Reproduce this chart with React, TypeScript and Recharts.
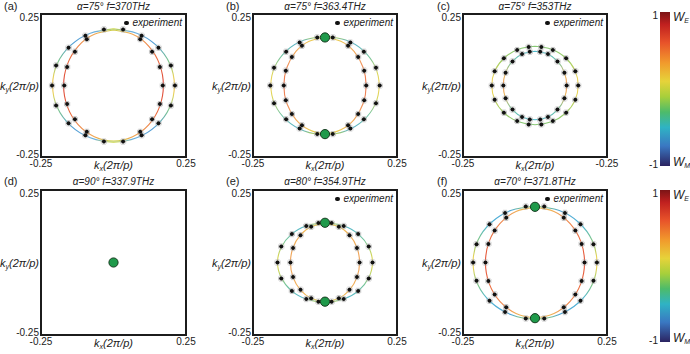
import React from 'react';
import {
  ComposedChart, Line, Scatter, XAxis, YAxis, ReferenceArea, ErrorBar, Legend, BarChart, Bar, LabelList,
} from 'recharts';

type Pt = [number, number];

// ---------------- data ----------------
const kTicks = [-0.25, 0.25];
const xTickLabelsStd = ['-0.25', '0.25'];
const xTickLabelsC = ['-0.25', '-0.25'];
const yTickLabels = ['-0.25', '0.25'];

const panelTitles = [
  'α=75° f=370THz', 'α=75° f=363.4THz', 'α=75° f=353THz',
  'α=90° f=337.9THz', 'α=80° f=354.9THz', 'α=70° f=371.8THz',
];
const panelLetters = ['(a)', '(b)', '(c)', '(d)', '(e)', '(f)'];

const curveAOuter: Pt[] = [[0,.198],[-.080,.183],[-.148,.140],[-.194,.076],[-.210,0],[-.194,-.076],[-.148,-.140],[-.080,-.183],[0,-.198],[.080,-.183],[.148,-.140],[.194,-.076],[.210,0],[.194,.076],[.148,.140],[.080,.183],[0,.198]];
const curveAInner: Pt[] = [[0,.194],[-.066,.179],[-.122,.137],[-.159,.074],[-.172,0],[-.159,-.074],[-.122,-.137],[-.066,-.179],[0,-.194],[.066,-.179],[.122,-.137],[.159,-.074],[.172,0],[.159,.074],[.122,.137],[.066,.179],[0,.194]];
const curveBOuter: Pt[] = [[0,.172],[-.072,.159],[-.133,.122],[-.174,.066],[-.188,0],[-.174,-.066],[-.133,-.122],[-.072,-.159],[0,-.172],[.072,-.159],[.133,-.122],[.174,-.066],[.188,0],[.174,.066],[.133,.122],[.072,.159],[0,.172]];
const curveBInner: Pt[] = [[0,.168],[-.055,.155],[-.101,.119],[-.132,.064],[-.143,0],[-.132,-.064],[-.101,-.119],[-.055,-.155],[0,-.168],[.055,-.155],[.101,-.119],[.132,-.064],[.143,0],[.132,.064],[.101,.119],[.055,.155],[0,.168]];
const curveCOuter: Pt[] = [[0,.137],[-.057,.127],[-.106,.097],[-.139,.052],[-.150,0],[-.139,-.052],[-.106,-.097],[-.057,-.127],[0,-.137],[.057,-.127],[.106,-.097],[.139,-.052],[.150,0],[.139,.052],[.106,.097],[.057,.127],[0,.137]];
const curveCInner: Pt[] = [[0,.120],[-.042,.111],[-.078,.085],[-.102,.046],[-.110,0],[-.102,-.046],[-.078,-.085],[-.042,-.111],[0,-.120],[.042,-.111],[.078,-.085],[.102,-.046],[.110,0],[.102,.046],[.078,.085],[.042,.111],[0,.120]];
const curveEOuter: Pt[] = [[0,.137],[-.063,.127],[-.117,.097],[-.152,.052],[-.165,0],[-.152,-.052],[-.117,-.097],[-.063,-.127],[0,-.137],[.063,-.127],[.117,-.097],[.152,-.052],[.165,0],[.152,.052],[.117,.097],[.063,.127],[0,.137]];
const curveEInner: Pt[] = [[0,.134],[-.046,.124],[-.085,.095],[-.111,.051],[-.120,0],[-.111,-.051],[-.085,-.095],[-.046,-.124],[0,-.134],[.046,-.124],[.085,-.095],[.111,-.051],[.120,0],[.111,.051],[.085,.095],[.046,.124],[0,.134]];
const curveFOuter: Pt[] = [[0,.195],[-.082,.180],[-.152,.138],[-.199,.075],[-.215,0],[-.199,-.075],[-.152,-.138],[-.082,-.180],[0,-.195],[.082,-.180],[.152,-.138],[.199,-.075],[.215,0],[.199,.075],[.152,.138],[.082,.180],[0,.195]];
const curveFInner: Pt[] = [[0,.190],[-.066,.176],[-.122,.134],[-.159,.073],[-.172,0],[-.159,-.073],[-.122,-.134],[-.066,-.176],[0,-.190],[.066,-.176],[.122,-.134],[.159,-.073],[.172,0],[.159,.073],[.122,.134],[.066,.176],[0,.190]];

const expA: Pt[] = [
  [.212,0],[-.212,0],[.198,.070],[-.198,.070],[.198,-.070],[-.198,-.070],[.155,.132],[-.155,.132],[.155,-.132],[-.155,-.132],[.097,.174],[-.097,.174],[.097,-.174],[-.097,-.174],
  [.170,0],[-.170,0],[.160,.065],[-.160,.065],[.160,-.065],[-.160,-.065],[.133,.118],[-.133,.118],[.133,-.118],[-.133,-.118],[.092,.162],[-.092,.162],[.092,-.162],[-.092,-.162],
  [.033,.196],[-.033,.196],[.033,-.196],[-.033,-.196],
];
const expB: Pt[] = [
  [.190,0],[-.190,0],[.177,.062],[-.177,.062],[.177,-.062],[-.177,-.062],[.135,.118],[-.135,.118],[.135,-.118],[-.135,-.118],[.088,.150],[-.088,.150],[.088,-.150],[-.088,-.150],
  [.143,0],[-.143,0],[.136,.052],[-.136,.052],[.136,-.052],[-.136,-.052],[.115,.100],[-.115,.100],[.115,-.100],[-.115,-.100],[.080,.139],[-.080,.139],[.080,-.139],[-.080,-.139],
  [.027,.168],[-.027,.168],[.027,-.170],[-.027,-.170],
];
const expC: Pt[] = [
  [.150,0],[-.150,0],[.140,.050],[-.140,.050],[.140,-.050],[-.140,-.050],[.108,.095],[-.108,.095],[.108,-.095],[-.108,-.095],[.062,.124],[-.062,.124],[.062,-.124],[-.062,-.124],[.022,.135],[-.022,.135],[.022,-.136],[-.022,-.136],
  [.110,0],[-.110,0],[.102,.045],[-.102,.045],[.102,-.045],[-.102,-.045],[.078,.084],[-.078,.084],[.078,-.084],[-.078,-.084],[.045,.110],[-.045,.110],[.045,-.110],[-.045,-.110],[.018,.118],[-.018,.118],[.018,-.119],[-.018,-.119],
];
const expE: Pt[] = [
  [.165,0],[-.165,0],[.152,.055],[-.152,.055],[.152,-.055],[-.152,-.055],[.115,.098],[-.115,.098],[.115,-.098],[-.115,-.098],[.065,.126],[-.065,.126],[.065,-.126],[-.065,-.126],
  [.120,0],[-.120,0],[.111,.050],[-.111,.050],[.111,-.050],[-.111,-.050],[.085,.094],[-.085,.094],[.085,-.094],[-.085,-.094],[.048,.123],[-.048,.123],[.048,-.123],[-.048,-.123],
  [.023,.136],[-.023,.136],[.023,-.135],[-.023,-.135],
];
const expF: Pt[] = [
  [.215,0],[-.215,0],[.203,.063],[-.203,.063],[.203,-.063],[-.203,-.063],[.158,.132],[-.158,.132],[.158,-.132],[-.158,-.132],[.104,.171],[-.104,.171],[.104,-.171],[-.104,-.171],
  [.172,0],[-.172,0],[.162,.064],[-.162,.064],[.162,-.064],[-.162,-.064],[.140,.110],[-.140,.110],[.140,-.110],[-.140,-.110],[.100,.154],[-.100,.154],[.100,-.154],[-.100,-.154],
  [.032,.193],[-.032,.193],[.032,-.193],[-.032,-.193],
];

const greenB: Pt[] = [[0, .168], [0, -.170]];
const greenD: Pt[] = [[0, 0]];
const greenE: Pt[] = [[0, .137], [0, -.135]];
const greenF: Pt[] = [[0, .192], [0, -.192]];

const expError = 0.009;

const colorbarData = [{ name: 'W', range: [-1, 1] }];
const colorbarTicks = [-1, 1];
const colorbarEndLabels = ['E', 'M'];

// ---------------- styles ----------------
type Stop = [number, string];
const gradAOuter: Stop[] = [[0,'#c8d448'],[0.02,'#6fb2dc'],[0.12,'#4f9bd4'],[0.28,'#7cc48f'],[0.42,'#e6d35a'],[0.5,'#f2b84e'],[0.58,'#e6d35a'],[0.72,'#7cc48f'],[0.88,'#4f9bd4'],[0.98,'#6fb2dc'],[1,'#c8d448']];
const gradAInner: Stop[] = [[0,'#cbd24a'],[0.03,'#f0a852'],[0.2,'#ec7442'],[0.5,'#de4538'],[0.8,'#ec7442'],[0.97,'#f0a852'],[1,'#cbd24a']];
const gradBOuter: Stop[] = [[0,'#b9d24c'],[0.05,'#5bb2cc'],[0.2,'#6fc3a2'],[0.38,'#dcd65a'],[0.5,'#f0d362'],[0.62,'#dcd65a'],[0.8,'#6fc3a2'],[0.95,'#5bb2cc'],[1,'#b9d24c']];
const gradBInner: Stop[] = [[0,'#e5d64c'],[0.08,'#f3b35a'],[0.3,'#f0905a'],[0.5,'#ec7852'],[0.7,'#f0905a'],[0.92,'#f3b35a'],[1,'#e5d64c']];
const gradCOuter: Stop[] = [[0,'#86c874'],[0.2,'#a4cf62'],[0.4,'#e8d55a'],[0.5,'#f0cf5a'],[0.6,'#e8d55a'],[0.8,'#a4cf62'],[1,'#86c874']];
const gradCInner: Stop[] = [[0,'#4fbacb'],[0.15,'#70c2a2'],[0.35,'#eab95a'],[0.5,'#f09256'],[0.65,'#eab95a'],[0.85,'#70c2a2'],[1,'#4fbacb']];
const gradEOuter: Stop[] = [[0,'#a9d158'],[0.06,'#55b8c8'],[0.22,'#74c498'],[0.4,'#cdd65a'],[0.5,'#e2d45a'],[0.6,'#cdd65a'],[0.78,'#74c498'],[0.94,'#55b8c8'],[1,'#a9d158']];
const gradEInner: Stop[] = [[0,'#e9d25a'],[0.1,'#f2b65a'],[0.5,'#f0a058'],[0.9,'#f2b65a'],[1,'#e9d25a']];
const gradFOuter: Stop[] = [[0,'#8fcb6a'],[0.04,'#4fa6d8'],[0.18,'#4fb6d2'],[0.32,'#86c87a'],[0.45,'#e8d456'],[0.5,'#f0cb56'],[0.55,'#e8d456'],[0.68,'#86c87a'],[0.82,'#4fb6d2'],[0.96,'#4fa6d8'],[1,'#8fcb6a']];
const gradFInner: Stop[] = [[0,'#f0c25a'],[0.08,'#ef9050'],[0.3,'#ea6a40'],[0.5,'#e4523a'],[0.7,'#ea6a40'],[0.92,'#ef9050'],[1,'#f0c25a']];
const gradColorbar: Stop[] = [[0,'#7b1416'],[0.08,'#c0201f'],[0.2,'#e8532a'],[0.33,'#f19a2c'],[0.45,'#e6d33a'],[0.55,'#a7cf3b'],[0.65,'#4dbb6a'],[0.75,'#2fb3c4'],[0.87,'#3a78c2'],[1,'#2b2361']];

const FONT = '"Liberation Sans", Arial, Helvetica, sans-serif';

const toPts = (arr: Pt[]) => arr.map(([kx, ky]) => ({ kx, ky }));

const ExpDot = (p: any) => <circle cx={p.cx} cy={p.cy} r={2} fill="#111" />;
const GreenDot = (p: any) => (
  <circle cx={p.cx} cy={p.cy} r={4.6} fill="#1f9a4b" stroke="#173c20" strokeWidth={1} />
);

const XLab = (props: any) => {
  const vb = props.viewBox || {};
  return (
    <text x={vb.x + vb.width / 2} y={vb.y + 8} textAnchor="middle" dominantBaseline="central"
      fontFamily={FONT} fontStyle="italic" fontSize={11} fill="#222">
      k<tspan dy={3} fontSize={7}>x</tspan><tspan dy={-3}>(2π/p)</tspan>
    </text>
  );
};
const YLab = (props: any) => {
  const vb = props.viewBox || {};
  return (
    <text x={vb.x + vb.width - 2} y={vb.y + vb.height / 2} textAnchor="end" dominantBaseline="central"
      fontFamily={FONT} fontStyle="italic" fontSize={11} fill="#222">
      k<tspan dy={3} fontSize={7}>y</tspan><tspan dy={-3}>(2π/p)</tspan>
    </text>
  );
};

const YTick = (props: any) => {
  const { x, y, payload, index } = props;
  const shift = payload.value > 0 ? 3 : -3;
  return (
    <text x={x} y={y + shift} textAnchor="end" dominantBaseline="central"
      fontFamily={FONT} fontSize={10} fill="#222">{yTickLabels[index]}</text>
  );
};

const ExpLegend = (props: any) => {
  const items = (props.payload || []).filter((p: any) => p.value === 'experiment');
  return (
    <div style={{ fontFamily: FONT, fontStyle: 'italic', fontSize: 10, color: '#222', whiteSpace: 'nowrap', lineHeight: '12px' }}>
      {items.map((it: any) => (
        <span key={it.value} style={{ display: 'inline-flex', alignItems: 'center' }}>
          <span style={{ display: 'inline-block', width: 4.5, height: 4.5, borderRadius: 3, background: '#111', marginRight: 4 }} />
          {it.value}
        </span>
      ))}
    </div>
  );
};

type Curve = { id: string; pts: Pt[]; grad: Stop[] };
type PanelProps = {
  idx: number; left: number; top: number; width: number; height: number;
  mLeft: number; mRight: number; letterX: number; titleY: number;
  curves: Curve[]; exp: Pt[]; green: Pt[]; xLabels: string[];
};

const Panel = (p: PanelProps) => {
  const yAxisW = 38;
  const xAxisH = 17;
  const mTop = 14;
  const mBottom = 2;
  const frameL = p.mLeft + yAxisW;
  const frameR = p.width - p.mRight;
  const frameCx = (frameL + frameR) / 2;
  return (
    <div style={{ position: 'absolute', left: p.left, top: p.top }}>
      <ComposedChart width={p.width} height={p.height}
        margin={{ top: mTop, right: p.mRight, bottom: mBottom, left: p.mLeft }}>
        <defs>
          {p.curves.map((c) => (
            <linearGradient key={c.id} id={c.id} x1="0" y1="0" x2="0" y2="1">
              {c.grad.map(([o, col], i) => <stop key={i} offset={o} stopColor={col} />)}
            </linearGradient>
          ))}
        </defs>
        <XAxis type="number" dataKey="kx" domain={[-0.25, 0.25]} ticks={kTicks} interval={0}
          allowDataOverflow axisLine={false} tickLine={false} tickSize={0} tickMargin={3} height={xAxisH}
          tickFormatter={(v: number, i: number) => p.xLabels[i]}
          tick={{ fontSize: 10, fill: '#222', fontFamily: FONT }}
          label={{ content: XLab }} />
        <YAxis type="number" dataKey="ky" domain={[-0.25, 0.25]} ticks={kTicks} interval={0}
          allowDataOverflow axisLine={false} tickLine={false} tickSize={0} tickMargin={2} width={yAxisW}
          tick={YTick}
          label={{ content: YLab }} />
        <ReferenceArea x1={-0.25} x2={0.25} y1={-0.25} y2={0.25} fill="none" fillOpacity={0}
          stroke="#1c1c1c" strokeWidth={2} ifOverflow="visible" />
        {p.curves.map((c) => (
          <Line key={c.id} data={toPts(c.pts)} dataKey="ky" type="natural" stroke={`url(#${c.id})`}
            strokeWidth={1.1} dot={false} activeDot={false} legendType="none" isAnimationActive={false} />
        ))}
        {p.exp.length > 0 && (
          <Scatter name="experiment" data={toPts(p.exp)} fill="#111" shape={ExpDot} isAnimationActive={false}>
            <ErrorBar dataKey={() => expError} direction="x" width={2} stroke="#a8a8a8" strokeWidth={0.6} />
            <ErrorBar dataKey={() => expError} direction="y" width={2} stroke="#a8a8a8" strokeWidth={0.6} />
          </Scatter>
        )}
        {p.green.length > 0 && (
          <Scatter name="mode" data={toPts(p.green)} fill="#1f9a4b" shape={GreenDot}
            legendType="none" isAnimationActive={false} />
        )}
        {p.exp.length > 0 && (
          <Legend layout="vertical" verticalAlign="middle" align="center" content={ExpLegend}
            wrapperStyle={{ left: frameR - 62, top: mTop + 2, width: 62, height: 12 }} />
        )}
        <text x={frameCx} y={p.titleY} textAnchor="middle" dominantBaseline="central"
          fontFamily={FONT} fontStyle="italic" fontSize={10} fill="#222">{panelTitles[p.idx]}</text>
        <text x={p.letterX} y={p.titleY} textAnchor="start" dominantBaseline="central"
          fontFamily={FONT} fontSize={11} fill="#222">{panelLetters[p.idx]}</text>
      </ComposedChart>
    </div>
  );
};

const WLabels = (props: any) => {
  const { x, y, width, height } = props;
  const tx = x + width + 3;
  return (
    <g>
      <text x={tx} y={y + 5} textAnchor="start" dominantBaseline="central" fontFamily={FONT}
        fontStyle="italic" fontSize={12} fill="#222">
        W<tspan dy={3} fontSize={7}>{colorbarEndLabels[0]}</tspan>
      </text>
      <text x={tx} y={y + height - 4} textAnchor="start" dominantBaseline="central" fontFamily={FONT}
        fontStyle="italic" fontSize={12} fill="#222">
        W<tspan dy={3} fontSize={7}>{colorbarEndLabels[1]}</tspan>
      </text>
    </g>
  );
};

const CbTick = (props: any) => {
  const { x, y, payload } = props;
  const shift = payload.value > 0 ? 3 : -2;
  return (
    <text x={x} y={y + shift} textAnchor="end" dominantBaseline="central"
      fontFamily={FONT} fontSize={10} fill="#222">{payload.value}</text>
  );
};

const Colorbar = ({ top, height, mTop, mBottom, id }: { top: number; height: number; mTop: number; mBottom: number; id: string }) => (
  <div style={{ position: 'absolute', left: 638, top }}>
    <BarChart width={52} height={height} data={colorbarData} barCategoryGap={0}
      margin={{ top: mTop, right: 20, bottom: mBottom, left: 2 }}>
      <defs>
        <linearGradient id={id} x1="0" y1="0" x2="0" y2="1">
          {gradColorbar.map(([o, col], i) => <stop key={i} offset={o} stopColor={col} />)}
        </linearGradient>
      </defs>
      <XAxis dataKey="name" hide />
      <YAxis type="number" domain={[-1, 1]} ticks={colorbarTicks} interval={0} width={20}
        axisLine={false} tickLine={false} tickSize={0} tickMargin={2} tick={CbTick} />
      <Bar dataKey="range" fill={`url(#${id})`} isAnimationActive={false}>
        <LabelList dataKey="name" content={WLabels} />
      </Bar>
    </BarChart>
  </div>
);

export default function App() {
  const row1 = { top: 0, height: 176, titleY: 6 };
  const row2 = { top: 176, height: 178, titleY: 5 };
  const colA = { left: 0, width: 212, mLeft: 3, mRight: 26, letterX: 4 };
  const colB = { left: 212, width: 210, mLeft: 3, mRight: 25, letterX: 14 };
  const colC = { left: 422, width: 210, mLeft: 3, mRight: 25, letterX: 15 };
  return (
    <div style={{ position: 'fixed', left: 0, top: 0, width: 690, height: 354, background: '#fff', overflow: 'hidden' }}>
      <Panel idx={0} {...colA} {...row1} xLabels={xTickLabelsStd} exp={expA} green={[]}
        curves={[{ id: 'gAo', pts: curveAOuter, grad: gradAOuter }, { id: 'gAi', pts: curveAInner, grad: gradAInner }]} />
      <Panel idx={1} {...colB} {...row1} xLabels={xTickLabelsStd} exp={expB} green={greenB}
        curves={[{ id: 'gBo', pts: curveBOuter, grad: gradBOuter }, { id: 'gBi', pts: curveBInner, grad: gradBInner }]} />
      <Panel idx={2} {...colC} {...row1} xLabels={xTickLabelsC} exp={expC} green={[]}
        curves={[{ id: 'gCo', pts: curveCOuter, grad: gradCOuter }, { id: 'gCi', pts: curveCInner, grad: gradCInner }]} />
      <Panel idx={3} {...colA} {...row2} xLabels={xTickLabelsStd} exp={[]} green={greenD} curves={[]} />
      <Panel idx={4} {...colB} {...row2} xLabels={xTickLabelsStd} exp={expE} green={greenE}
        curves={[{ id: 'gEo', pts: curveEOuter, grad: gradEOuter }, { id: 'gEi', pts: curveEInner, grad: gradEInner }]} />
      <Panel idx={5} {...colC} {...row2} xLabels={xTickLabelsStd} exp={expF} green={greenF}
        curves={[{ id: 'gFo', pts: curveFOuter, grad: gradFOuter }, { id: 'gFi', pts: curveFInner, grad: gradFInner }]} />
      <Colorbar id="cb1" top={0} height={176} mTop={12} mBottom={10} />
      <Colorbar id="cb2" top={176} height={178} mTop={14} mBottom={12} />
    </div>
  );
}
